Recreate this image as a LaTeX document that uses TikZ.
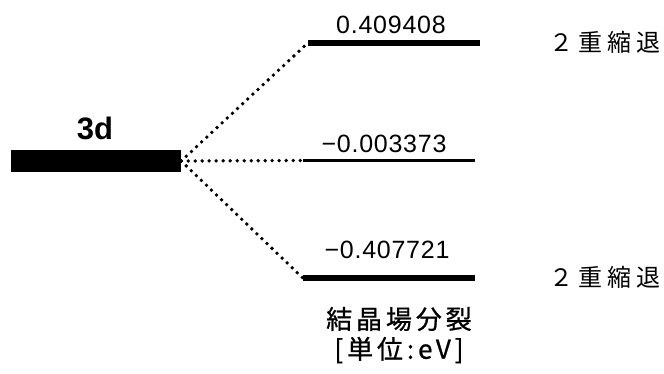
\documentclass[tikz,border=0pt]{standalone}
\usepackage{fontspec}
\setmainfont{Liberation Sans}
\newfontfamily\jpfont{Noto Sans CJK JP}
\begin{document}
\begin{tikzpicture}[x=1pt,y=-1pt,
  level/.style={fill=black,draw=none,inner sep=0pt,minimum width=172pt},
  link/.style={line width=3.8pt,line cap=round,dash pattern=on 0pt off 7pt},
  val/.style={inner sep=0pt,font=\fontsize{25}{25}\selectfont\addfontfeatures{LetterSpace=3}},
  jp/.style={inner sep=0pt,font=\fontsize{24}{24}\jpfont\addfontfeatures{LetterSpace=20}},
  jpnote/.style={inner sep=0pt,font=\fontsize{26}{26}\jpfont\addfontfeatures{LetterSpace=15,FakeBold=0.8}}]
\useasboundingbox (0,0) rectangle (664,373);

% atomic 3d level
\node[level,minimum width=170pt,minimum height=22pt] (d3) at (96,161) {};
\node[inner sep=0pt,font=\fontsize{31}{31}\selectfont\bfseries] (d3lab) at (95,128) {3d};

% split levels
\node[level,minimum height=6pt] (up) at (394,43) {};
\node[level,minimum height=3pt] (mid) at (389,160.5) {};
\node[level,minimum height=6pt] (low) at (389,278) {};

% energies
\node[val] (upv) at (391,25) {0.409408};
\node[val] (midv) at (384,144) {−0.003373};
\node[val] (lowv) at (387,250) {−0.407721};

% degeneracy
\node[jp] (upd) at (605,42) {２重縮退};
\node[jp] (lowd) at (605,277) {２重縮退};

% caption
\node[jpnote] (cap1) at (399,319) {結晶場分裂};
\node[jpnote] (cap2) at (399,350) {[単位:eV]};

% dotted correlation lines
\draw[link] (d3.east) -- (up.west);
\draw[link] (d3.east) -- (mid.west);
\draw[link] (d3.east) -- (low.west);
\end{tikzpicture}
\end{document}
